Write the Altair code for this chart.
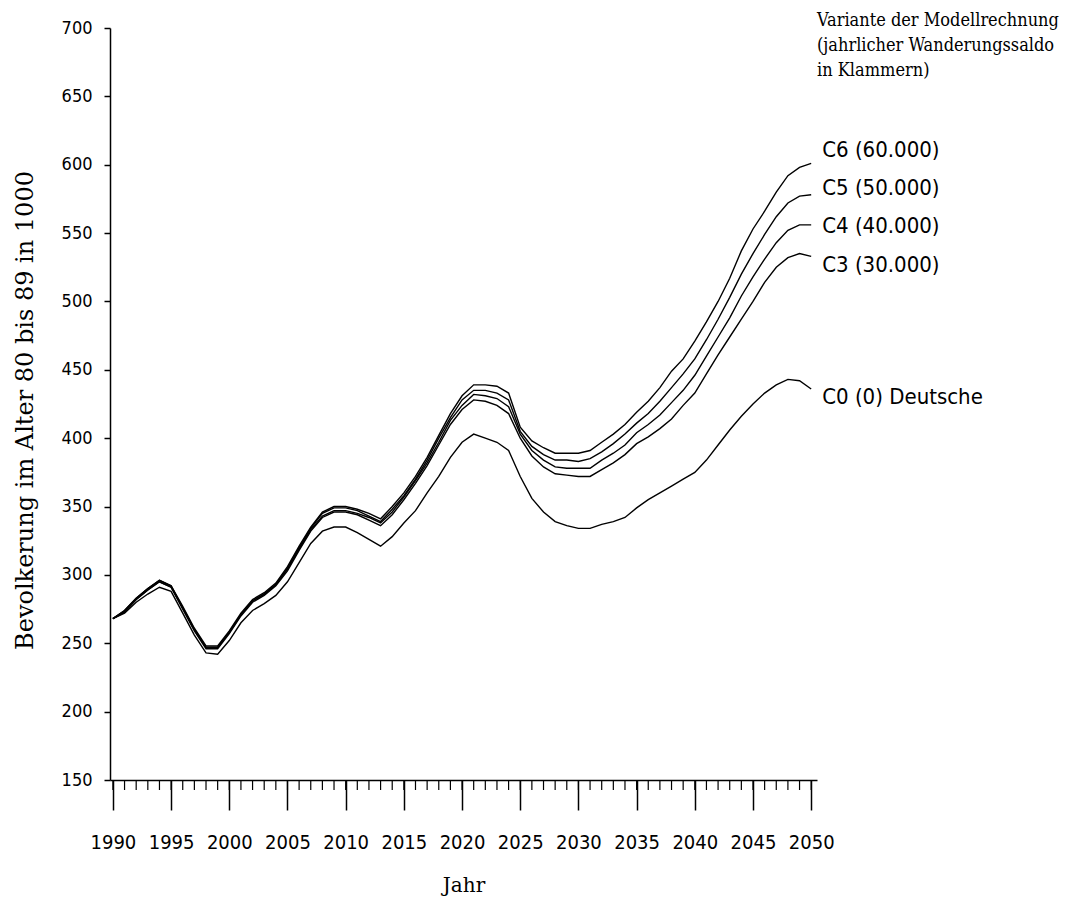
import altair as alt
import pandas as pd

years = list(range(1990, 2051))

c6 = [268, 274, 283, 290, 296, 292, 277, 261, 248, 248,
      259, 272, 282, 287, 294, 306, 321, 335, 346, 350,
      350, 348, 345, 341, 350, 360, 372, 386, 402, 418,
      431, 439, 439, 438, 433, 408, 398, 393, 389, 389,
      389, 391, 397, 403, 410, 419, 427, 437, 449, 458,
      471, 485, 500, 517, 537, 553, 566, 580, 592, 598, 601]

c5 = [268, 274, 283, 290, 296, 292, 276, 260, 247, 247,
      258, 271, 281, 286, 293, 305, 320, 334, 345, 349,
      349, 347, 343, 339, 348, 358, 370, 384, 400, 415,
      428, 435, 435, 433, 428, 405, 394, 388, 384, 384,
      383, 385, 390, 396, 403, 411, 418, 427, 437, 447,
      458, 472, 487, 503, 520, 535, 549, 562, 572, 577, 578]

c4 = [268, 273, 282, 289, 295, 291, 276, 260, 247, 247,
      258, 271, 281, 286, 293, 304, 319, 333, 343, 347,
      347, 345, 342, 338, 346, 357, 369, 382, 397, 413,
      424, 432, 431, 429, 423, 403, 391, 384, 379, 378,
      378, 378, 384, 389, 395, 404, 410, 417, 426, 435,
      446, 460, 474, 488, 504, 518, 531, 543, 552, 556, 556]

c3 = [268, 273, 282, 289, 295, 291, 275, 259, 246, 246,
      257, 270, 280, 285, 292, 303, 318, 332, 342, 346,
      346, 344, 340, 336, 344, 355, 367, 380, 395, 410,
      421, 428, 427, 424, 418, 400, 387, 379, 374, 373,
      372, 372, 377, 382, 388, 396, 401, 407, 414, 424,
      433, 447, 461, 474, 487, 500, 514, 525, 532, 535, 533]

c0 = [268, 272, 280, 286, 291, 288, 272, 256, 243, 242,
      252, 265, 274, 279, 285, 295, 309, 323, 332, 335,
      335, 331, 326, 321, 328, 338, 347, 360, 372, 386,
      397, 403, 400, 397, 391, 372, 356, 346, 339, 336,
      334, 334, 337, 339, 342, 349, 355, 360, 365, 370,
      375, 384, 395, 406, 416, 425, 433, 439, 443, 442, 436]

series_names = ["C6", "C5", "C4", "C3", "C0"]
series_values = [c6, c5, c4, c3, c0]

label_texts = ["C6 (60.000)", "C5 (50.000)", "C4 (40.000)", "C3 (30.000)", "C0 (0) Deutsche"]
label_values = [611, 583, 555, 527, 430]
label_year = 2050

major_ticks = [1990, 1995, 2000, 2005, 2010, 2015, 2020, 2025, 2030, 2035, 2040, 2045, 2050]
y_ticks = [150, 200, 250, 300, 350, 400, 450, 500, 550, 600, 650, 700]

header = "Variante der Modellrechnung\n(jahrlicher Wanderungssaldo\n in Klammern)"

rows = []
for name, vals in zip(series_names, series_values):
    for yr, v in zip(years, vals):
        rows.append({"series": name, "year": yr, "value": v})
df = pd.DataFrame(rows)

lab_df = pd.DataFrame({"text": label_texts, "value": label_values,
                       "year": [label_year] * len(label_texts)})
minor_df = pd.DataFrame({"year": years})

W, H = 707, 752
xscale = alt.Scale(domain=[1989.75, 2050.5], nice=False, zero=False)
yscale = alt.Scale(domain=[150, 700], nice=False, zero=False)

COND = "DejaVu Sans Condensed, sans-serif"
SERIF = "DejaVu Serif, serif"
SERIFC = "DejaVu Serif Condensed, DejaVu Serif, serif"

x_enc = alt.X(
    "year:Q", scale=xscale,
    axis=alt.Axis(values=major_ticks, format="d", tickSize=30, tickWidth=1.5,
                  tickColor="black", domainColor="black", domainWidth=1.5,
                  labelFont=COND, labelFontSize=20, labelColor="black",
                  labelPadding=22, grid=False, labelFlush=False,
                  title="Jahr", titleFont=SERIF, titleFontSize=20,
                  titleFontWeight="normal", titleColor="black",
                  titleX=W / 2, titleY=105, titleBaseline="middle"),
)
y_enc = alt.Y(
    "value:Q", scale=yscale,
    axis=alt.Axis(values=y_ticks, tickSize=6, tickWidth=1.5, tickColor="black",
                  domainColor="black", domainWidth=1.5,
                  labelFont=COND, labelFontSize=18,
                  labelColor="black", labelPadding=12, grid=False,
                  title="Bevolkerung im Alter 80 bis 89 in 1000",
                  titleFont=SERIF, titleFontSize=24, titleFontWeight="normal",
                  titleColor="black", titleX=-85, titleY=H / 2 + 6,
                  titleAngle=270, titleAlign="center", titleBaseline="middle"),
)

lines = alt.Chart(df).mark_line(color="black", strokeWidth=1.4).encode(
    x=x_enc, y=y_enc, detail="series:N"
)

minor = alt.Chart(minor_df).mark_rule(color="black", strokeWidth=1.2).encode(
    x=alt.X("year:Q", scale=xscale),
    y=alt.value(H), y2=alt.value(H + 10),
)

labels = alt.Chart(lab_df).mark_text(
    align="left", baseline="middle", dx=11, font=COND, fontSize=22, color="black"
).encode(
    x=alt.X("year:Q", scale=xscale),
    y=alt.Y("value:Q", scale=yscale),
    text="text:N",
)

head = alt.Chart(pd.DataFrame({"t": [header]})).mark_text(
    align="left", baseline="alphabetic", font=SERIFC, fontSize=18,
    lineHeight=25, color="black", lineBreak="\n"
).encode(x=alt.value(707), y=alt.value(-2), text="t:N")

chart = alt.layer(minor, lines, labels, head).properties(
    width=W, height=H,
    autosize=alt.AutoSizeParams(type="none"),
    padding={"left": 102, "top": 20, "right": 254, "bottom": 122},
).configure(background="white").configure_view(strokeWidth=0)

chart.save("out.html", embed_options={"renderer": "svg", "actions": False})
